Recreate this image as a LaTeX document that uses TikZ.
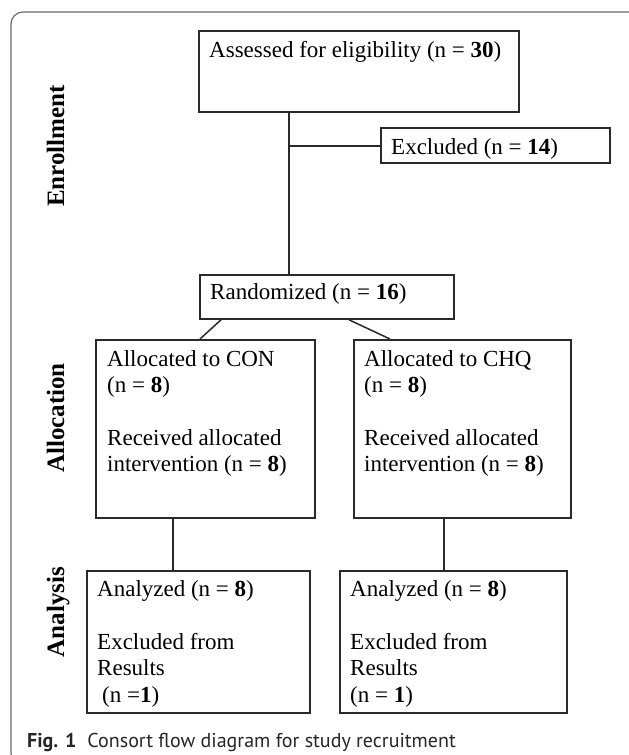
\documentclass[tikz,border=0pt]{standalone}
\usepackage{fontspec}
\setmainfont{Liberation Serif}
\newfontfamily\capfont{PT Sans}
\usetikzlibrary{calc}
\definecolor{boxline}{HTML}{2A2A2A}
\definecolor{framec}{HTML}{6A6A6A}
\tikzset{
  boxnode/.style={draw=boxline, line width=1.8pt, rectangle, anchor=north west, inner sep=0pt},
  txt/.style={anchor=base west, inner sep=0pt, align=left, font=\fontsize{23}{26.3}\selectfont},
  conn/.style={draw=boxline, line width=1.5pt},
  phase/.style={anchor=base, rotate=90, inner sep=0pt, font=\fontsize{25}{28}\selectfont\bfseries}
}
\begin{document}
\begin{tikzpicture}[x=1pt,y=-1pt]
\useasboundingbox (0,0) rectangle (629,755);
\begin{scope}
\clip (0,0) rectangle (629,755);
\draw[framec, line width=1.2pt, rounded corners=12pt] (11,12) rectangle (650,765);
\end{scope}
% boxes
\node[boxnode, minimum width=320pt, minimum height=81pt] (assessed) at (198,30) {};
\node[boxnode, minimum width=229pt, minimum height=35pt] (exc) at (380,127) {};
\node[boxnode, minimum width=254pt, minimum height=44pt] (rand) at (199,274) {};
\node[boxnode, minimum width=219pt, minimum height=178pt] (con) at (95,339) {};
\node[boxnode, minimum width=217pt, minimum height=178pt] (chq) at (353,339) {};
\node[boxnode, minimum width=223pt, minimum height=142pt] (anl) at (86,570) {};
\node[boxnode, minimum width=227pt, minimum height=142pt] (anr) at (339,570) {};
% texts (multi-line nodes: base = baseline of the last line)
\node[txt] (tassessed) at (209,57) {Assessed for eligibility (n = \textbf{30})};
\node[txt] (texc) at (391,154) {Excluded (n = \textbf{14})};
\node[txt] (trand) at (210,299) {Randomized (n = \textbf{16})};
\node[txt] (tcon) at (107,471.5) {Allocated to CON\\(n = \textbf{8})\\[26.3pt]Received allocated\\intervention (n = \textbf{8})};
\node[txt] (tchq) at (364,471.5) {Allocated to CHQ\\(n = \textbf{8})\\[26.3pt]Received allocated\\intervention (n = \textbf{8})};
\node[txt] (tanl) at (97,702) {Analyzed (n = \textbf{8})\\[26.3pt]Excluded from\\Results\\\hspace*{5pt}(n =\textbf{1})};
\node[txt] (tanr) at (350,702) {Analyzed (n = \textbf{8})\\[26.3pt]Excluded from\\Results\\(n = \textbf{1})};
% phase labels
\node[phase] (lenr) at (64,146) {Enrollment};
\node[phase] (lall) at (64,418) {Allocation};
\node[phase] (lana) at (64,612) {Analysis};
% connectors
\coordinate (j) at (289,146);
\draw[conn] (assessed.south -| j) -- (rand.north -| j);
\draw[conn] (j) -- (j -| exc.west);
\draw[conn] ($(rand.south west)+(22,0)$) -- ($(con.north west)+(105,0)$);
\draw[conn] ($(rand.south west)+(150,0)$) -- ($(chq.north west)+(37,0)$);
\draw[conn] ($(con.south west)+(78,0)$) -- ($(anl.north west)+(87,0)$);
\draw[conn] ($(chq.south west)+(91,0)$) -- ($(anr.north west)+(105,0)$);
% caption
\node[anchor=base west, inner sep=0pt, text=black!85, font=\capfont\fontsize{20}{24}\selectfont] (cap) at (27,747) {\textbf{Fig. 1}\hspace{0.55em}Consort flow diagram for study recruitment};
\end{tikzpicture}
\end{document}
